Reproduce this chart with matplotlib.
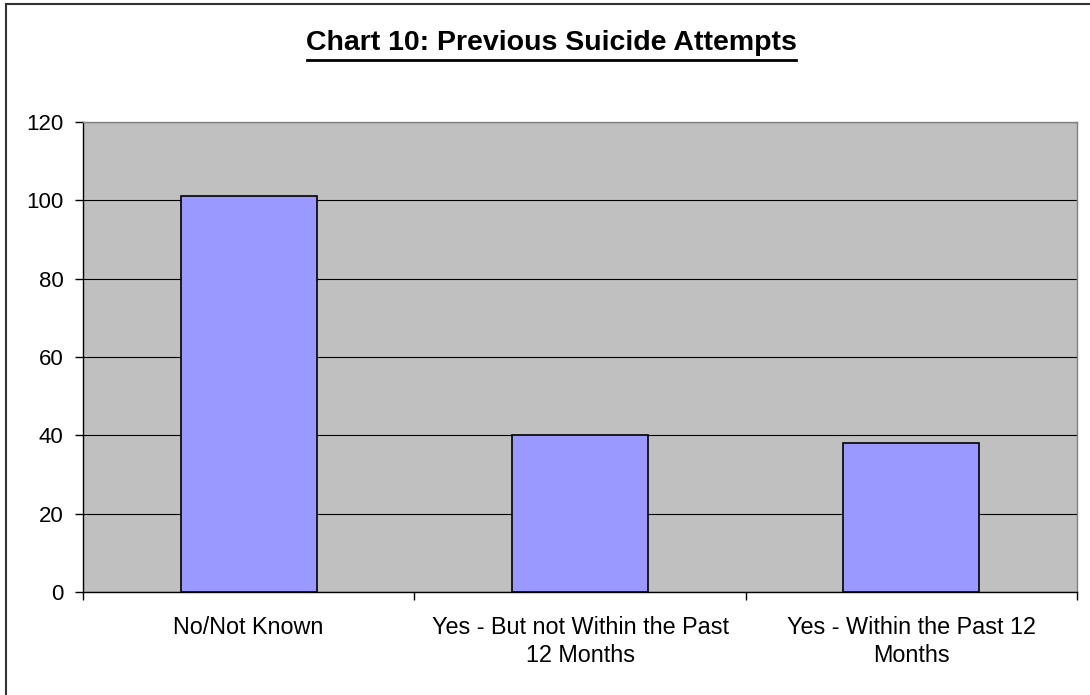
import matplotlib
matplotlib.use("Agg")
import matplotlib.pyplot as plt
import numpy as np

categories = ["No/Not Known", "Yes - But not Within the Past\n12 Months", "Yes - Within the Past 12\nMonths"]
values = [101, 40, 38]
yticks = [0, 20, 40, 60, 80, 100, 120]
title = "Chart 10: Previous Suicide Attempts"

plt.rcParams['font.family'] = ['Liberation Sans', 'DejaVu Sans']

fig = plt.figure(figsize=(10.9, 6.95), dpi=100)
ax = fig.add_axes([83/1090, 1 - 592/695, (1077-83)/1090, (592-122)/695])
ax.set_facecolor('#C0C0C0')

x = np.arange(len(categories))
ax.bar(x, values, width=0.41, color='#9999FF', edgecolor='black', linewidth=1.2, zorder=3)

ax.set_xlim(-0.5, len(categories) - 0.5)
ax.set_ylim(0, 120)
ax.set_yticks(yticks)
ax.set_yticklabels([str(t) for t in yticks], fontsize=16)
ax.yaxis.grid(True, color='black', linewidth=0.8, zorder=1)
ax.set_axisbelow(True)

ax.set_xticks(x)
ax.set_xticklabels(categories, fontsize=16.8, linespacing=1.28)
ax.tick_params(axis='x', which='major', length=0, pad=17)
ax.set_xticks(np.arange(-0.5, len(categories), 1.0), minor=True)
ax.tick_params(axis='x', which='minor', length=6, width=1, color='black', direction='out')
ax.tick_params(axis='y', length=6, width=1, direction='out', pad=8)

for side in ['top', 'right']:
    ax.spines[side].set_color('#808080')
    ax.spines[side].set_linewidth(1)
for side in ['left', 'bottom']:
    ax.spines[side].set_color('black')
    ax.spines[side].set_linewidth(1)

fig.text(551/1090, 1 - 50/695, title, ha='center', va='baseline', fontsize=20.5, fontweight='bold')
# underline
fig.add_artist(plt.Line2D([307/1090, 796/1090], [1 - 59.5/695, 1 - 59.5/695], color='black', linewidth=2.0))

# figure frame (left and top edges visible)
fig.add_artist(plt.Line2D([6/1090, 6/1090], [0, 1 - 3.5/695], color='#333333', linewidth=1.5))
fig.add_artist(plt.Line2D([6/1090, 1], [1 - 3.5/695, 1 - 3.5/695], color='#333333', linewidth=1.5))

fig.savefig('out.png', dpi=100)
